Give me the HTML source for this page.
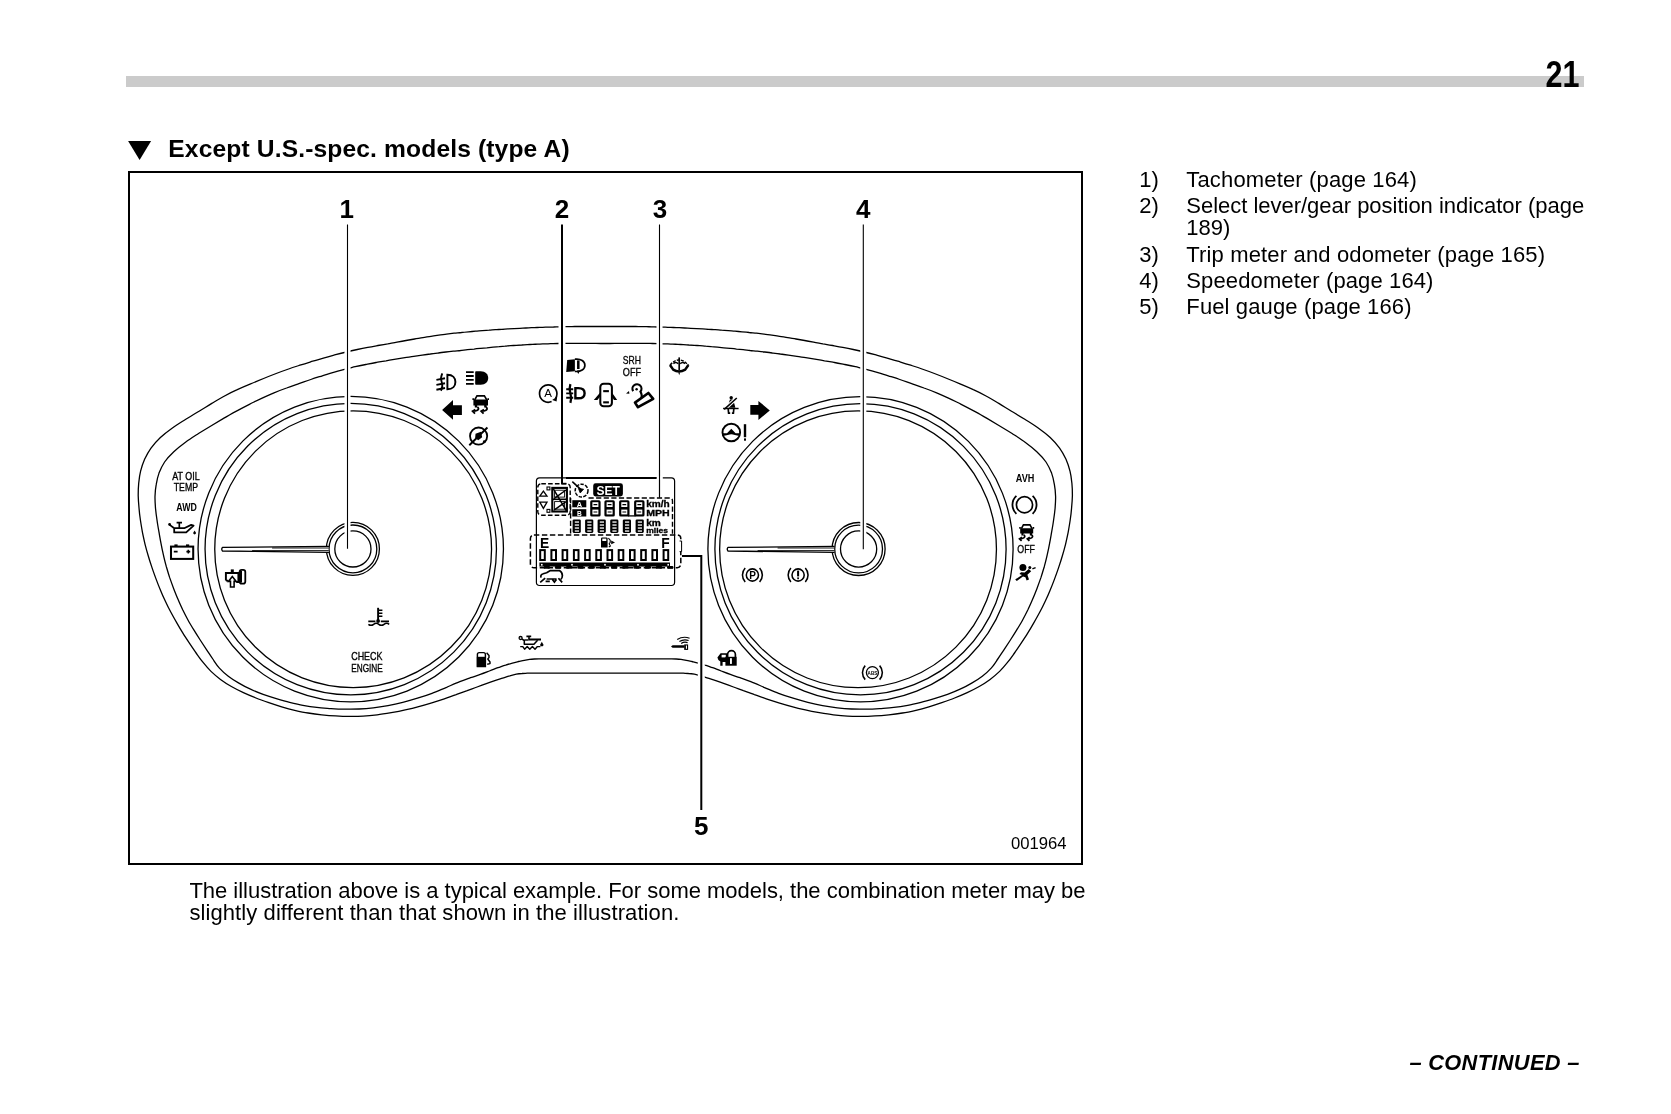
<!DOCTYPE html>
<html lang="en">
<head>
<meta charset="utf-8">
<title>Combination meter - Except U.S.-spec. models (type A)</title>
<style>
html,body{margin:0;padding:0;background:#fff;}
body{width:1671px;height:1114px;position:relative;overflow:hidden;font-family:"Liberation Sans",sans-serif;color:#000;}
.abs{position:absolute;white-space:nowrap;line-height:1;}
#bar{position:absolute;left:126px;top:76px;width:1458px;height:11px;background:#cbcbcb;}
#pageno{left:1539px;top:56.6px;width:40px;text-align:right;font-size:36.6px;font-weight:bold;transform:scaleX(0.835);transform-origin:100% 50%;}
#heading{left:168.3px;top:137px;font-size:24.6px;font-weight:bold;letter-spacing:0.14px;}
#figbox{position:absolute;left:128px;top:171px;width:951px;height:690px;border:2px solid #000;box-sizing:content-box;}
.li{font-size:22px;margin-left:-0.7px;}
.cap{font-size:22px;left:189.4px;}
#cont{left:1409.4px;top:1052.3px;font-size:21.8px;font-weight:bold;font-style:italic;letter-spacing:0.34px;}
#page{position:absolute;left:0;top:0;width:1671px;height:1114px;will-change:transform;}
svg{position:absolute;left:0;top:0;}
svg text{font-family:"Liberation Sans",sans-serif;}
</style>
</head>
<body>
<div id="page">
<div id="bar"></div>
<div id="pageno" class="abs">21</div>
<div id="heading" class="abs">Except U.S.-spec. models (type A)</div>
<div id="figbox"></div>

<div class="abs li" style="left:1140px;top:169px;">1)</div>
<div class="abs li" style="left:1187px;top:169px;letter-spacing:0.15px;">Tachometer (page 164)</div>
<div class="abs li" style="left:1140px;top:195px;">2)</div>
<div class="abs li" style="left:1187px;top:195px;letter-spacing:-0.02px;">Select lever/gear position indicator (page</div>
<div class="abs li" style="left:1187px;top:217px;">189)</div>
<div class="abs li" style="left:1140px;top:244px;">3)</div>
<div class="abs li" style="left:1187px;top:244px;letter-spacing:0.15px;">Trip meter and odometer (page 165)</div>
<div class="abs li" style="left:1140px;top:270px;">4)</div>
<div class="abs li" style="left:1187px;top:270px;letter-spacing:0.12px;">Speedometer (page 164)</div>
<div class="abs li" style="left:1140px;top:296px;">5)</div>
<div class="abs li" style="left:1187px;top:296px;letter-spacing:0.13px;">Fuel gauge (page 166)</div>

<div class="abs cap" style="top:880px;letter-spacing:-0.015px;">The illustration above is a typical example. For some models, the combination meter may be</div>
<div class="abs cap" style="top:902px;letter-spacing:0.09px;">slightly different than that shown in the illustration.</div>

<div id="cont" class="abs">– CONTINUED –</div>

<svg width="1671" height="1114" viewBox="0 0 1671 1114">
<g fill="none" stroke="#000" stroke-width="1.3" stroke-linecap="round" stroke-linejoin="round">
<path d="M140.4 520.0 C139.8 515.9 139.3 511.9 139.0 507.8 C138.6 503.7 138.3 499.6 138.2 495.5 C138.2 491.4 138.3 487.3 138.7 483.3 C139.1 479.2 139.6 475.1 140.6 471.2 C141.6 467.2 142.9 463.2 144.6 459.3 C146.4 455.5 148.4 451.7 151.0 448.1 C153.7 444.4 156.8 440.9 160.4 437.5 C164.0 434.2 168.2 431.0 172.4 428.0 C176.6 424.9 181.4 422.1 185.8 419.3 C190.3 416.5 194.8 413.8 199.1 411.2 C203.4 408.5 207.7 406.0 211.8 403.4 C216.0 400.9 219.9 398.5 224.1 396.2 C228.4 393.9 232.8 391.7 237.3 389.7 C241.7 387.6 246.2 385.7 250.6 383.9 C255.0 382.0 259.3 380.2 263.6 378.5 C267.9 376.7 272.0 375.1 276.2 373.5 C280.4 371.9 284.5 370.4 288.6 369.0 C292.7 367.5 296.9 366.2 300.9 364.9 C304.9 363.6 308.9 362.4 312.8 361.2 C316.7 360.0 320.6 358.9 324.3 357.8 C328.1 356.7 331.9 355.7 335.6 354.7 C339.3 353.7 342.9 352.8 346.5 352.0 C350.2 351.1 353.7 350.3 357.3 349.5 C360.8 348.8 364.3 348.1 367.8 347.4 C371.2 346.7 374.6 346.1 377.9 345.5 C381.2 344.9 384.5 344.3 387.7 343.8 C390.9 343.2 394.0 342.7 397.0 342.1 C400.1 341.6 403.1 341.1 406.0 340.5 C408.9 340.0 411.8 339.5 414.6 339.0 C417.4 338.5 420.2 338.1 422.9 337.6 C425.6 337.2 428.3 336.7 431.0 336.3 C433.6 335.9 436.3 335.5 438.8 335.1 C441.4 334.8 444.0 334.4 446.5 334.1 C449.1 333.8 451.6 333.5 454.1 333.2 C456.5 333.0 459.0 332.7 461.4 332.5 C463.8 332.2 466.2 332.0 468.6 331.8 C470.9 331.6 473.3 331.4 475.6 331.2 C477.9 331.0 480.1 330.9 482.4 330.7 C484.6 330.5 486.8 330.3 489.0 330.2 C491.2 330.0 493.3 329.9 495.4 329.7 C497.6 329.6 499.7 329.4 501.8 329.3 C503.8 329.2 505.9 329.0 507.9 328.9 C510.0 328.8 512.0 328.7 514.0 328.6 C516.0 328.5 518.0 328.4 519.9 328.3 C521.9 328.2 523.8 328.1 525.8 328.0 C527.7 327.9 529.6 327.8 531.5 327.7 C533.4 327.6 535.3 327.6 537.1 327.5 C539.0 327.4 540.8 327.4 542.7 327.3 C544.5 327.2 546.4 327.2 548.2 327.1 C550.0 327.1 551.8 327.0 553.6 327.0 C555.4 326.9 557.2 326.9 558.9 326.8 C560.7 326.8 562.5 326.7 564.2 326.7 C566.0 326.7 567.7 326.6 569.5 326.6 C571.2 326.6 572.9 326.5 574.7 326.5 C576.4 326.5 578.1 326.5 579.8 326.5 C581.5 326.5 583.3 326.5 585.0 326.5 C586.7 326.5 588.4 326.5 590.1 326.5 C591.8 326.5 593.5 326.5 595.2 326.5 C596.9 326.5 598.5 326.5 600.2 326.5 C601.9 326.5 603.6 326.5 605.3 326.5 C607.0 326.5 608.7 326.5 610.4 326.5 C612.1 326.5 613.7 326.5 615.4 326.5 C617.1 326.5 618.8 326.5 620.5 326.5 C622.2 326.5 623.9 326.5 625.6 326.5 C627.3 326.5 629.1 326.5 630.8 326.5 C632.5 326.5 634.2 326.5 635.9 326.5 C637.7 326.5 639.4 326.6 641.1 326.6 C642.9 326.6 644.6 326.7 646.4 326.7 C648.1 326.7 649.9 326.8 651.7 326.8 C653.4 326.9 655.2 326.9 657.0 327.0 C658.8 327.0 660.6 327.1 662.4 327.1 C664.2 327.2 666.1 327.2 667.9 327.3 C669.8 327.4 671.6 327.4 673.5 327.5 C675.3 327.6 677.2 327.6 679.1 327.7 C681.0 327.8 682.9 327.9 684.8 328.0 C686.8 328.1 688.7 328.2 690.7 328.3 C692.6 328.4 694.6 328.5 696.6 328.6 C698.6 328.7 700.6 328.8 702.7 328.9 C704.7 329.0 706.8 329.2 708.8 329.3 C710.9 329.4 713.0 329.6 715.2 329.7 C717.3 329.9 719.4 330.0 721.6 330.2 C723.8 330.3 726.0 330.5 728.2 330.7 C730.5 330.9 732.7 331.0 735.0 331.2 C737.3 331.4 739.7 331.6 742.0 331.8 C744.4 332.0 746.8 332.2 749.2 332.5 C751.6 332.7 754.1 333.0 756.5 333.2 C759.0 333.5 761.5 333.8 764.1 334.1 C766.6 334.4 769.2 334.8 771.8 335.1 C774.3 335.5 777.0 335.9 779.6 336.3 C782.3 336.7 785.0 337.2 787.7 337.6 C790.4 338.1 793.2 338.5 796.0 339.0 C798.8 339.5 801.7 340.0 804.6 340.5 C807.5 341.1 810.5 341.6 813.6 342.1 C816.6 342.7 819.7 343.2 822.9 343.8 C826.1 344.3 829.4 344.9 832.7 345.5 C836.0 346.1 839.4 346.7 842.8 347.4 C846.3 348.1 849.8 348.8 853.3 349.5 C856.9 350.3 860.4 351.1 864.1 352.0 C867.7 352.8 871.3 353.7 875.0 354.7 C878.7 355.7 882.5 356.7 886.3 357.8 C890.0 358.9 893.9 360.0 897.8 361.2 C901.7 362.4 905.7 363.6 909.7 364.9 C913.7 366.2 917.9 367.5 922.0 369.0 C926.1 370.4 930.2 371.9 934.4 373.5 C938.6 375.1 942.7 376.7 947.0 378.5 C951.3 380.2 955.6 382.0 960.0 383.9 C964.4 385.7 968.9 387.6 973.3 389.7 C977.8 391.7 982.2 393.9 986.5 396.2 C990.7 398.5 994.6 400.9 998.8 403.4 C1002.9 406.0 1007.2 408.5 1011.5 411.2 C1015.8 413.8 1020.3 416.5 1024.8 419.3 C1029.2 422.1 1034.0 424.9 1038.2 428.0 C1042.4 431.0 1046.6 434.2 1050.2 437.5 C1053.8 440.9 1056.9 444.4 1059.6 448.1 C1062.2 451.7 1064.2 455.5 1066.0 459.3 C1067.7 463.2 1069.0 467.2 1070.0 471.2 C1071.0 475.1 1071.5 479.2 1071.9 483.3 C1072.3 487.3 1072.4 491.4 1072.4 495.5 C1072.3 499.6 1072.0 503.7 1071.6 507.8 C1071.3 511.9 1070.8 515.9 1070.2 520.0 C1069.6 524.1 1068.9 528.1 1068.2 532.1 C1067.4 536.1 1066.5 540.1 1065.6 544.1 C1064.6 548.1 1063.5 552.0 1062.3 556.0 C1061.2 559.9 1059.9 563.8 1058.6 567.6 C1057.3 571.5 1055.9 575.3 1054.5 579.1 C1053.1 582.9 1051.6 586.7 1050.0 590.4 C1048.5 594.2 1046.8 597.9 1045.1 601.5 C1043.4 605.2 1041.6 608.8 1039.7 612.3 C1037.8 615.9 1035.8 619.4 1033.8 622.9 C1031.8 626.4 1029.8 629.8 1027.7 633.2 C1025.6 636.6 1023.4 639.9 1021.2 643.2 C1019.0 646.5 1016.8 649.8 1014.5 653.0 C1012.2 656.2 1010.0 659.4 1007.5 662.4 C1005.0 665.5 1002.5 668.5 999.6 671.4 C996.7 674.2 993.5 676.9 990.1 679.4 C986.7 681.9 983.0 684.3 979.2 686.5 C975.4 688.7 971.3 690.7 967.2 692.6 C963.1 694.5 958.8 696.3 954.6 698.0 C950.4 699.7 946.1 701.2 941.8 702.7 C937.5 704.2 933.2 705.6 928.9 706.8 C924.6 708.1 920.3 709.3 915.9 710.3 C911.5 711.3 907.0 712.3 902.5 713.0 C898.0 713.8 893.4 714.4 888.8 714.8 C884.2 715.3 879.6 715.7 875.0 715.9 C870.4 716.2 865.9 716.4 861.3 716.4 C856.7 716.5 852.1 716.4 847.5 716.1 C842.9 715.9 838.1 715.4 833.4 714.8 C828.7 714.3 824.0 713.5 819.3 712.7 C814.7 711.9 810.0 711.0 805.4 709.9 C800.9 708.9 796.3 707.8 791.9 706.6 C787.5 705.4 783.1 704.1 778.8 702.8 C774.5 701.5 770.3 700.2 766.3 698.8 C762.2 697.4 758.2 695.9 754.4 694.6 C750.6 693.2 746.9 691.8 743.4 690.6 C739.9 689.3 736.7 688.2 733.5 687.0 C730.3 685.9 727.2 684.8 724.3 683.7 C721.3 682.7 718.5 681.7 715.8 680.7 C713.1 679.8 710.5 679.0 708.0 678.2 C705.5 677.4 703.1 676.5 700.8 675.9 C698.5 675.2 696.4 674.6 694.3 674.2 C692.3 673.8 690.5 673.6 688.6 673.5 C686.8 673.3 685.1 673.3 683.4 673.2 C681.7 673.2 680.0 673.2 678.4 673.2 C676.7 673.2 675.1 673.2 673.5 673.2 C671.9 673.2 670.3 673.2 668.8 673.2 C667.2 673.2 665.6 673.2 664.1 673.2 C662.6 673.2 661.0 673.2 659.5 673.2 C658.0 673.2 656.5 673.2 655.1 673.2 C653.6 673.2 652.1 673.2 650.7 673.2 C649.2 673.2 647.8 673.2 646.3 673.2 C644.9 673.2 643.5 673.2 642.1 673.2 C640.7 673.2 639.3 673.2 637.9 673.2 C636.5 673.1 635.1 673.1 633.7 673.1 C632.3 673.1 630.9 673.1 629.6 673.1 C628.2 673.1 626.8 673.1 625.5 673.1 C624.1 673.1 622.7 673.1 621.4 673.1 C620.0 673.1 618.7 673.1 617.4 673.1 C616.0 673.1 614.7 673.1 613.3 673.1 C612.0 673.1 610.6 673.1 609.3 673.1 C608.0 673.1 606.6 673.1 605.3 673.1 C604.0 673.1 602.6 673.1 601.3 673.1 C600.0 673.1 598.6 673.1 597.3 673.1 C595.9 673.1 594.6 673.1 593.2 673.1 C591.9 673.1 590.6 673.1 589.2 673.1 C587.9 673.1 586.5 673.1 585.1 673.1 C583.8 673.1 582.4 673.1 581.0 673.1 C579.7 673.1 578.3 673.1 576.9 673.1 C575.5 673.1 574.1 673.1 572.7 673.2 C571.3 673.2 569.9 673.2 568.5 673.2 C567.1 673.2 565.7 673.2 564.3 673.2 C562.8 673.2 561.4 673.2 559.9 673.2 C558.5 673.2 557.0 673.2 555.5 673.2 C554.1 673.2 552.6 673.2 551.1 673.2 C549.6 673.2 548.0 673.2 546.5 673.2 C545.0 673.2 543.4 673.2 541.8 673.2 C540.3 673.2 538.7 673.2 537.1 673.2 C535.5 673.2 533.9 673.2 532.2 673.2 C530.6 673.2 528.9 673.2 527.2 673.2 C525.5 673.3 523.8 673.3 522.0 673.5 C520.1 673.6 518.3 673.8 516.3 674.2 C514.2 674.6 512.1 675.2 509.8 675.9 C507.5 676.5 505.1 677.4 502.6 678.2 C500.1 679.0 497.5 679.8 494.8 680.7 C492.1 681.7 489.3 682.7 486.3 683.7 C483.4 684.8 480.3 685.9 477.1 687.0 C473.9 688.2 470.7 689.3 467.2 690.6 C463.7 691.8 460.0 693.2 456.2 694.6 C452.4 695.9 448.4 697.4 444.3 698.8 C440.3 700.2 436.1 701.5 431.8 702.8 C427.5 704.1 423.1 705.4 418.7 706.6 C414.3 707.8 409.7 708.9 405.2 709.9 C400.6 711.0 395.9 711.9 391.3 712.7 C386.6 713.5 381.9 714.3 377.2 714.8 C372.5 715.4 367.7 715.9 363.1 716.1 C358.5 716.4 353.9 716.5 349.3 716.4 C344.7 716.4 340.2 716.2 335.6 715.9 C331.0 715.7 326.4 715.3 321.8 714.8 C317.2 714.4 312.6 713.8 308.1 713.0 C303.6 712.3 299.1 711.3 294.7 710.3 C290.3 709.3 286.0 708.1 281.7 706.8 C277.4 705.6 273.1 704.2 268.8 702.7 C264.5 701.2 260.2 699.7 256.0 698.0 C251.8 696.3 247.5 694.5 243.4 692.6 C239.3 690.7 235.2 688.7 231.4 686.5 C227.6 684.3 223.9 681.9 220.5 679.4 C217.1 676.9 213.9 674.2 211.0 671.4 C208.1 668.5 205.6 665.5 203.1 662.4 C200.6 659.4 198.4 656.2 196.1 653.0 C193.8 649.8 191.6 646.5 189.4 643.2 C187.2 639.9 185.0 636.6 182.9 633.2 C180.8 629.8 178.8 626.4 176.8 622.9 C174.8 619.4 172.8 615.9 170.9 612.3 C169.0 608.8 167.2 605.2 165.5 601.5 C163.8 597.9 162.1 594.2 160.6 590.4 C159.0 586.7 157.5 582.9 156.1 579.1 C154.7 575.3 153.3 571.5 152.0 567.6 C150.7 563.8 149.4 559.9 148.3 556.0 C147.1 552.0 146.0 548.1 145.0 544.1 C144.1 540.1 143.2 536.1 142.4 532.1 C141.7 528.1 141.0 524.1 140.4 520.0Z"/>
<path d="M157.0 520.0 C156.4 516.1 155.9 512.2 155.5 508.2 C155.2 504.3 154.9 500.3 155.0 496.4 C155.1 492.5 155.5 488.5 156.2 484.7 C156.8 480.8 157.6 476.9 159.0 473.1 C160.5 469.3 162.2 465.6 164.6 462.0 C167.1 458.4 170.3 455.0 173.8 451.7 C177.3 448.4 181.4 445.2 185.5 442.2 C189.6 439.2 194.2 436.3 198.5 433.5 C202.9 430.8 207.4 428.1 211.7 425.5 C216.0 422.9 220.2 420.4 224.4 417.9 C228.6 415.5 232.7 413.1 236.9 410.9 C241.1 408.6 245.2 406.4 249.4 404.3 C253.5 402.3 257.5 400.2 261.6 398.3 C265.7 396.4 269.8 394.5 274.0 392.8 C278.1 391.1 282.4 389.5 286.6 388.0 C290.7 386.4 294.9 385.0 298.9 383.6 C303.0 382.2 306.9 380.8 310.8 379.5 C314.7 378.3 318.6 377.0 322.3 375.8 C326.1 374.6 329.8 373.5 333.5 372.4 C337.2 371.4 340.8 370.3 344.4 369.4 C348.1 368.4 351.6 367.6 355.2 366.7 C358.8 365.9 362.3 365.2 365.8 364.5 C369.3 363.8 372.7 363.1 376.1 362.5 C379.5 361.9 382.8 361.3 386.1 360.8 C389.4 360.2 392.6 359.7 395.7 359.2 C398.8 358.7 401.9 358.2 404.9 357.7 C407.9 357.2 410.8 356.8 413.7 356.3 C416.6 355.9 419.4 355.5 422.2 355.1 C424.9 354.7 427.7 354.3 430.3 354.0 C433.0 353.6 435.7 353.3 438.3 353.0 C440.9 352.6 443.4 352.3 445.9 352.0 C448.4 351.8 450.9 351.5 453.3 351.2 C455.8 351.0 458.1 350.7 460.5 350.5 C462.8 350.2 465.2 350.0 467.4 349.7 C469.7 349.5 471.9 349.3 474.1 349.1 C476.3 348.8 478.5 348.6 480.6 348.4 C482.8 348.2 484.9 348.0 486.9 347.8 C489.0 347.6 491.1 347.4 493.1 347.2 C495.1 347.0 497.1 346.8 499.1 346.7 C501.1 346.5 503.0 346.3 504.9 346.2 C506.9 346.0 508.8 345.9 510.7 345.7 C512.6 345.6 514.4 345.4 516.3 345.3 C518.2 345.2 520.0 345.1 521.8 345.0 C523.6 344.8 525.4 344.7 527.2 344.6 C529.0 344.5 530.8 344.5 532.6 344.4 C534.3 344.3 536.1 344.2 537.8 344.1 C539.5 344.1 541.2 344.0 543.0 343.9 C544.7 343.9 546.4 343.8 548.0 343.8 C549.7 343.7 551.4 343.7 553.1 343.6 C554.7 343.6 556.4 343.6 558.0 343.5 C559.7 343.5 561.3 343.4 562.9 343.4 C564.5 343.4 566.1 343.4 567.7 343.3 C569.4 343.3 571.0 343.3 572.5 343.3 C574.1 343.3 575.7 343.3 577.3 343.3 C578.9 343.3 580.5 343.3 582.0 343.3 C583.6 343.3 585.2 343.3 586.7 343.4 C588.3 343.4 589.8 343.4 591.4 343.4 C593.0 343.4 594.5 343.4 596.0 343.4 C597.6 343.5 599.1 343.5 600.7 343.5 C602.2 343.5 603.8 343.5 605.3 343.5 C606.8 343.5 608.4 343.5 609.9 343.5 C611.5 343.5 613.0 343.5 614.6 343.4 C616.1 343.4 617.6 343.4 619.2 343.4 C620.8 343.4 622.3 343.4 623.9 343.4 C625.4 343.3 627.0 343.3 628.6 343.3 C630.1 343.3 631.7 343.3 633.3 343.3 C634.9 343.3 636.5 343.3 638.1 343.3 C639.6 343.3 641.2 343.3 642.9 343.3 C644.5 343.4 646.1 343.4 647.7 343.4 C649.3 343.4 650.9 343.5 652.6 343.5 C654.2 343.6 655.9 343.6 657.5 343.6 C659.2 343.7 660.9 343.7 662.6 343.8 C664.2 343.8 665.9 343.9 667.6 343.9 C669.4 344.0 671.1 344.1 672.8 344.1 C674.5 344.2 676.3 344.3 678.0 344.4 C679.8 344.5 681.6 344.5 683.4 344.6 C685.2 344.7 687.0 344.8 688.8 345.0 C690.6 345.1 692.4 345.2 694.3 345.3 C696.2 345.4 698.0 345.6 699.9 345.7 C701.8 345.9 703.7 346.0 705.7 346.2 C707.6 346.3 709.5 346.5 711.5 346.7 C713.5 346.8 715.5 347.0 717.5 347.2 C719.5 347.4 721.6 347.6 723.7 347.8 C725.7 348.0 727.8 348.2 730.0 348.4 C732.1 348.6 734.3 348.8 736.5 349.1 C738.7 349.3 740.9 349.5 743.2 349.7 C745.4 350.0 747.8 350.2 750.1 350.5 C752.5 350.7 754.8 351.0 757.3 351.2 C759.7 351.5 762.2 351.8 764.7 352.0 C767.2 352.3 769.7 352.6 772.3 353.0 C774.9 353.3 777.6 353.6 780.3 354.0 C782.9 354.3 785.7 354.7 788.4 355.1 C791.2 355.5 794.0 355.9 796.9 356.3 C799.8 356.8 802.7 357.2 805.7 357.7 C808.7 358.2 811.8 358.7 814.9 359.2 C818.0 359.7 821.2 360.2 824.5 360.8 C827.8 361.3 831.1 361.9 834.5 362.5 C837.9 363.1 841.3 363.8 844.8 364.5 C848.3 365.2 851.8 365.9 855.4 366.7 C859.0 367.6 862.5 368.4 866.2 369.4 C869.8 370.3 873.4 371.4 877.1 372.4 C880.8 373.5 884.5 374.6 888.3 375.8 C892.0 377.0 895.9 378.3 899.8 379.5 C903.7 380.8 907.6 382.2 911.7 383.6 C915.7 385.0 919.9 386.4 924.0 388.0 C928.2 389.5 932.5 391.1 936.6 392.8 C940.8 394.5 944.9 396.4 949.0 398.3 C953.1 400.2 957.1 402.3 961.2 404.3 C965.4 406.4 969.5 408.6 973.7 410.9 C977.9 413.1 982.0 415.5 986.2 417.9 C990.4 420.4 994.6 422.9 998.9 425.5 C1003.2 428.1 1007.7 430.8 1012.1 433.5 C1016.4 436.3 1021.0 439.2 1025.1 442.2 C1029.2 445.2 1033.3 448.4 1036.8 451.7 C1040.3 455.0 1043.5 458.4 1046.0 462.0 C1048.4 465.6 1050.1 469.3 1051.6 473.1 C1053.0 476.9 1053.8 480.8 1054.4 484.7 C1055.1 488.5 1055.5 492.5 1055.6 496.4 C1055.7 500.3 1055.4 504.3 1055.1 508.2 C1054.7 512.2 1054.2 516.1 1053.6 520.0 C1053.1 523.9 1052.4 527.8 1051.7 531.7 C1051.0 535.6 1050.4 539.4 1049.6 543.3 C1048.9 547.1 1048.1 551.0 1047.2 554.8 C1046.4 558.6 1045.4 562.4 1044.4 566.2 C1043.3 569.9 1042.2 573.7 1041.0 577.4 C1039.7 581.1 1038.4 584.7 1037.0 588.4 C1035.6 592.0 1034.2 595.6 1032.6 599.2 C1031.1 602.8 1029.5 606.3 1027.9 609.8 C1026.2 613.3 1024.4 616.8 1022.5 620.2 C1020.6 623.6 1018.6 626.9 1016.6 630.2 C1014.6 633.5 1012.5 636.8 1010.4 640.0 C1008.3 643.2 1006.2 646.4 1004.1 649.6 C1002.0 652.7 1000.0 655.9 997.8 659.0 C995.7 662.1 993.8 665.3 991.2 668.1 C988.6 671.0 985.6 673.7 982.3 676.2 C979.1 678.7 975.4 681.0 971.7 683.1 C968.0 685.3 964.2 687.4 960.1 689.2 C956.1 691.1 951.8 692.8 947.5 694.4 C943.2 695.9 938.7 697.3 934.3 698.6 C929.9 699.9 925.5 701.2 921.0 702.3 C916.6 703.4 912.2 704.5 907.7 705.3 C903.1 706.1 898.4 706.8 893.8 707.3 C889.1 707.9 884.3 708.2 879.6 708.6 C875.0 708.9 870.3 709.1 865.6 709.1 C861.0 709.2 856.4 709.2 851.6 709.0 C846.9 708.8 842.1 708.4 837.3 707.8 C832.4 707.3 827.5 706.5 822.6 705.6 C817.6 704.6 812.7 703.5 807.8 702.3 C802.8 701.1 797.9 699.7 793.1 698.2 C788.2 696.7 783.4 695.1 778.6 693.3 C773.8 691.5 768.7 689.2 764.0 687.3 C759.4 685.3 754.8 683.2 750.8 681.6 C746.8 680.0 743.4 678.9 740.0 677.7 C736.6 676.5 733.4 675.5 730.3 674.4 C727.2 673.3 724.1 672.1 721.2 671.0 C718.2 669.9 715.3 668.7 712.6 667.7 C709.9 666.8 707.4 665.8 705.0 665.1 C702.6 664.3 700.4 663.7 698.2 663.1 C696.1 662.5 694.0 662.0 692.0 661.5 C690.1 661.1 688.1 660.7 686.3 660.3 C684.5 659.9 682.7 659.6 681.0 659.4 C679.3 659.2 677.7 659.1 676.1 659.0 C674.5 658.9 673.1 658.9 671.6 658.9 C670.1 658.9 668.6 658.9 667.1 658.9 C665.7 658.9 664.3 658.9 662.8 658.9 C661.4 658.9 660.0 658.9 658.6 658.9 C657.2 658.9 655.8 658.9 654.5 658.9 C653.1 658.9 651.8 658.9 650.4 658.9 C649.1 658.9 647.8 658.9 646.4 658.9 C645.1 658.9 643.8 658.9 642.5 658.9 C641.2 658.9 639.9 658.9 638.6 658.9 C637.4 658.9 636.1 658.9 634.8 658.9 C633.5 658.9 632.3 658.9 631.0 658.9 C629.8 658.9 628.5 658.9 627.3 658.9 C626.0 658.9 624.8 658.9 623.6 658.9 C622.3 658.9 621.1 658.9 619.9 658.9 C618.7 658.9 617.4 658.8 616.2 658.8 C615.0 658.8 613.8 658.8 612.6 658.8 C611.4 658.8 610.1 658.8 608.9 658.8 C607.7 658.8 606.5 658.8 605.3 658.8 C604.1 658.8 602.9 658.8 601.7 658.8 C600.5 658.8 599.2 658.8 598.0 658.8 C596.8 658.8 595.6 658.8 594.4 658.8 C593.2 658.8 591.9 658.9 590.7 658.9 C589.5 658.9 588.3 658.9 587.0 658.9 C585.8 658.9 584.6 658.9 583.3 658.9 C582.1 658.9 580.8 658.9 579.6 658.9 C578.3 658.9 577.1 658.9 575.8 658.9 C574.5 658.9 573.2 658.9 572.0 658.9 C570.7 658.9 569.4 658.9 568.1 658.9 C566.8 658.9 565.5 658.9 564.2 658.9 C562.8 658.9 561.5 658.9 560.2 658.9 C558.8 658.9 557.5 658.9 556.1 658.9 C554.8 658.9 553.4 658.9 552.0 658.9 C550.6 658.9 549.2 658.9 547.8 658.9 C546.3 658.9 544.9 658.9 543.5 658.9 C542.0 658.9 540.5 658.9 539.0 658.9 C537.5 658.9 536.1 658.9 534.5 659.0 C532.9 659.1 531.3 659.2 529.6 659.4 C527.9 659.6 526.1 659.9 524.3 660.3 C522.5 660.7 520.5 661.1 518.6 661.5 C516.6 662.0 514.5 662.5 512.4 663.1 C510.2 663.7 508.0 664.3 505.6 665.1 C503.2 665.8 500.7 666.8 498.0 667.7 C495.3 668.7 492.4 669.9 489.4 671.0 C486.5 672.1 483.4 673.3 480.3 674.4 C477.2 675.5 474.0 676.5 470.6 677.7 C467.2 678.9 463.8 680.0 459.8 681.6 C455.8 683.2 451.2 685.3 446.6 687.3 C441.9 689.2 436.8 691.5 432.0 693.3 C427.2 695.1 422.4 696.7 417.5 698.2 C412.7 699.7 407.8 701.1 402.8 702.3 C397.9 703.5 393.0 704.6 388.0 705.6 C383.1 706.5 378.2 707.3 373.3 707.8 C368.5 708.4 363.7 708.8 359.0 709.0 C354.2 709.2 349.6 709.2 345.0 709.1 C340.3 709.1 335.6 708.9 331.0 708.6 C326.3 708.2 321.5 707.9 316.8 707.3 C312.2 706.8 307.5 706.1 302.9 705.3 C298.4 704.5 294.0 703.4 289.6 702.3 C285.1 701.2 280.7 699.9 276.3 698.6 C271.9 697.3 267.4 695.9 263.1 694.4 C258.8 692.8 254.5 691.1 250.5 689.2 C246.4 687.4 242.6 685.3 238.9 683.1 C235.2 681.0 231.5 678.7 228.3 676.2 C225.0 673.7 222.0 671.0 219.4 668.1 C216.8 665.3 214.9 662.1 212.8 659.0 C210.6 655.9 208.6 652.7 206.5 649.6 C204.4 646.4 202.3 643.2 200.2 640.0 C198.1 636.8 196.0 633.5 194.0 630.2 C192.0 626.9 190.0 623.6 188.1 620.2 C186.2 616.8 184.4 613.3 182.7 609.8 C181.1 606.3 179.5 602.8 178.0 599.2 C176.4 595.6 175.0 592.0 173.6 588.4 C172.2 584.7 170.9 581.1 169.6 577.4 C168.4 573.7 167.3 569.9 166.2 566.2 C165.2 562.4 164.2 558.6 163.4 554.8 C162.5 551.0 161.7 547.1 161.0 543.3 C160.2 539.4 159.6 535.6 158.9 531.7 C158.2 527.8 157.5 523.9 157.0 520.0Z"/>
<circle cx="350.75" cy="549.1" r="152.7"/>
<circle cx="350.75" cy="549.1" r="145.7"/>
<circle cx="353.15" cy="549.2" r="138.4"/>
<circle cx="860.50" cy="549.3" r="152.6"/>
<circle cx="860.50" cy="549.3" r="145.6"/>
<circle cx="858.05" cy="549.3" r="138.4"/>
<circle cx="352.9" cy="548.9" r="26.5" fill="#fff"/>
<circle cx="352.9" cy="548.9" r="23.9" fill="#fff"/>
<circle cx="352.9" cy="548.9" r="18.1" fill="#fff"/>
<circle cx="858.6" cy="549.0" r="26.5" fill="#fff"/>
<circle cx="858.6" cy="549.0" r="23.9" fill="#fff"/>
<circle cx="858.6" cy="549.0" r="18.1" fill="#fff"/>
<path d="M328.4 546.4 L222.5 547.4 Q221.0 549.2 222.5 551 L328.4 552.4" fill="#fff"/>
<path d="M272.5 548.0 L328.4 548.0" stroke-width="0.9"/>
<path d="M252.5 550.6 L328.4 550.6" stroke-width="0.9"/>
<path d="M834.1 546.4 L728.0 547.4 Q726.5 549.2 728.0 551 L834.1 552.4" fill="#fff"/>
<path d="M778.0 548.0 L834.1 548.0" stroke-width="0.9"/>
<path d="M758.0 550.6 L834.1 550.6" stroke-width="0.9"/>
<path d="M347.5 300 V548.8" stroke="#fff" stroke-width="6.1" stroke-linecap="butt"/>
<path d="M347.5 224.5 V548.8" stroke-width="1.1" stroke-linecap="butt"/>
<path d="M562 300 V484" stroke="#fff" stroke-width="7.0" stroke-linecap="butt"/>
<path d="M562 224.5 V484" stroke-width="2.0" stroke-linecap="butt"/>
<path d="M659.5 300 V497.5" stroke="#fff" stroke-width="6.1" stroke-linecap="butt"/>
<path d="M659.5 224.5 V497.5" stroke-width="1.1" stroke-linecap="butt"/>
<path d="M863.3 300 V549.3" stroke="#fff" stroke-width="6.1" stroke-linecap="butt"/>
<path d="M863.3 224.5 V549.3" stroke-width="1.1" stroke-linecap="butt"/>
<path d="M701.3 640 V700" stroke="#fff" stroke-width="7" stroke-linecap="butt"/>
<path d="M682 556 H701.3 V810" stroke-width="2" stroke-linecap="butt" stroke-linejoin="miter"/>
</g>
<polygon points="128.1,140.9 151.1,140.9 139.6,159.9" fill="#000"/>
<g id="tell-left" fill="none" stroke="#000" stroke-width="1.68" stroke-linecap="butt" stroke-linejoin="miter">
<!-- front fog lamp -->
<path d="M447.4 374.7 C452.8 374.7 455.4 378 455.4 382 C455.4 386 452.8 389.3 447.4 389.3 Z" stroke-width="1.92"/>
<path d="M445 378.2 L436.4 379.9 M445 383.2 L436.4 384.9 M445 388 L436.4 389.7" stroke-width="1.92"/>
<path d="M442.3 373.4 q-2.2 4.2 -0.6 8.6 q1.6 4.4 -0.8 8.8" stroke-width="1.80"/>
<!-- high beam -->
<path d="M476 371.3 H480.6 C485.6 371.3 488.2 374.4 488.2 378 C488.2 381.6 485.6 384.7 480.6 384.7 H476 Q475.2 384.7 475.2 383.9 V372.1 Q475.2 371.3 476 371.3 Z" fill="#000" stroke="none"/>
<path d="M466 372.2 H473.7 M466 376 H473.7 M466 379.9 H473.7 M466 383.8 H473.7" stroke-width="1.80"/>
<!-- left turn arrow -->
<path d="M442.1 410.1 L453 400 V405.3 H461.9 V415 H453 V419.8 Z" fill="#000" stroke="none"/>
<!-- VDC car with skid marks -->
<path d="M474.6 400 L477 395.9 H484.4 L486.8 400" stroke-width="1.56"/>
<path d="M473.4 399.6 H488 V405.4 H486.6 V407.6 H484.2 V405.4 H477.2 V407.6 H474.8 V405.4 H473.4 Z" fill="#000" stroke="none"/>
<path d="M472.4 399.2 H474 M487.4 399.2 H489" stroke-width="1.68"/>
<path d="M477.4 407 q2.2 1.8 0 3.2 q-1.6 1 -4.6 1 M475.4 409.6 l-2.8 1.6 l2.4 2.4 M486 407 q2.2 1.8 0 3.2 q-1.6 1 -4.6 1 M484 409.6 l-2.8 1.6 l2.4 2.4" stroke-width="1.80"/>
<!-- steering crossed -->
<circle cx="478.6" cy="436.1" r="8.6" stroke-width="1.80"/>
<path d="M469.3 445.3 L487.4 427.5" stroke-width="1.92"/>
<path d="M475.5 433.8 L481 431.8 L482.2 437.2 L478.2 440.2 L475.2 438 Z" fill="#000" stroke="none"/>
<circle cx="484.3" cy="441.7" r="1.4" fill="#000" stroke="none"/>
</g>
<g id="tell-top" fill="none" stroke="#000" stroke-width="1.68" stroke-linecap="butt">
<!-- (A) auto start stop -->
<path d="M555.6 398.2 A8.7 8.7 0 1 0 551.6 401.6" stroke-width="1.68"/>
<path d="M557.2 396.6 L556.6 401.6 L552.2 400 Z" fill="#000" stroke="none"/>
<text x="548.2" y="397.3" font-size="11.5" text-anchor="middle" fill="#000" stroke="none">A</text>
<!-- headlight warning -->
<path d="M567.2 360 L574.9 359.3 V371.2 L566.2 372 Z" fill="#000" stroke="none"/>
<path d="M574.9 359.2 C581 358.4 584.9 361.4 584.9 365.3 C584.9 369.3 581 371.9 574.9 371.4" stroke-width="1.68"/>
<path d="M578.3 360.4 V369" stroke-width="2.52"/>
<path d="M577.1 370.4 h2.4 l-0.4 2.2 l-0.8 1.4 l-0.8 -1.4 z" fill="#000" stroke="none"/>
<!-- rear fog -->
<path d="M575.4 388.1 H578.4 C583 388.1 584.6 390.6 584.6 393.2 C584.6 395.9 583 398.3 578.4 398.3 H575.4 Z" stroke-width="2.40"/>
<path d="M566.2 389.2 H573.2 M566.2 393.4 H573.2 M566.2 397.7 H573.2" stroke-width="1.92"/>
<path d="M570.4 384.2 q-1.6 4.6 0 9.2 q1.6 4.6 0 9.4" stroke-width="2.28"/>
<!-- door ajar (car top view) -->
<rect x="600.3" y="383.7" width="11.6" height="22.6" rx="3.4" ry="3.4" stroke-width="2.04"/>
<rect x="603.2" y="390.1" width="5.7" height="2.1" fill="#000" stroke="none"/>
<rect x="603.2" y="401.3" width="5.7" height="2.1" fill="#000" stroke="none"/>
<path d="M600.2 392.4 L593.8 399.9 H597.4 L600.2 396.4 Z M611.9 392.4 L617.2 399.9 H613.9 L611.9 396.4 Z" fill="#000" stroke="none"/>
<!-- SRH OFF -->
<text x="622.8" y="364.3" font-size="10.4" textLength="18.2" lengthAdjust="spacingAndGlyphs" fill="#000" stroke="#000" stroke-width="0.30">SRH</text>
<text x="622.8" y="375.5" font-size="10.4" textLength="18.2" lengthAdjust="spacingAndGlyphs" fill="#000" stroke="#000" stroke-width="0.30">OFF</text>
<!-- seat / hand icon -->
<path d="M633.2 391.2 A4.5 4.5 0 1 1 640.4 391.6 Q642.6 395.6 641.2 398" stroke-width="2.16"/>
<circle cx="636.6" cy="389.2" r="1.2" fill="#000" stroke="none"/>
<path d="M626 393.6 L629 391 L629.4 393.8 Z" fill="#000" stroke="none"/>
<path d="M635 402.6 L648.4 393 L653.2 398.8 L638 407.2 Z" stroke-width="2.64" stroke-linejoin="round"/>
<!-- windshield washer -->
<path d="M670 365.2 Q679 354.6 688.4 365.2" stroke-width="1.44" stroke-dasharray="3 1.2"/>
<path d="M670 365 L673.2 369.6 Q679 373.4 685.2 369.6 L688.4 365" stroke-width="2.52" stroke-linejoin="round"/>
<path d="M679.2 357.4 V370.4" stroke-width="1.68"/>
<path d="M673.4 363.6 Q676 361.2 678.2 363.8 M680.2 363.8 Q682.4 361.2 685 363.6" stroke-width="1.44"/>
<path d="M678.3 372.6 h1.8 l-0.9 2.6 z" fill="#000" stroke="none"/>
</g>
<g id="tell-right" fill="none" stroke="#000" stroke-width="1.68" stroke-linecap="butt">
<!-- seatbelt -->
<circle cx="731.2" cy="397.8" r="1.7" fill="#000" stroke="none"/>
<path d="M730 399.4 H733.2 L735.4 407.8 H727.2 Z" fill="#000" stroke="none"/>
<path d="M724.2 409.4 L736.8 398" stroke="#fff" stroke-width="3.60"/>
<path d="M724.2 409.4 L736.8 398" stroke-width="1.56"/>
<path d="M723.1 408.5 H738.6" stroke-width="1.44"/>
<path d="M728.2 409 L728.6 413.2 H730.2 M733.8 409 L733.4 413.2 H731.9" stroke-width="1.68"/>
<!-- right turn arrow -->
<path d="M750.3 405.1 H758.4 V401 L769.8 410.4 L758.4 420 V414.8 H750.3 Z" fill="#000" stroke="none"/>
<!-- power steering warning -->
<circle cx="731.3" cy="432.5" r="8.8" stroke-width="1.92"/>
<path d="M722.6 433.2 H727 L731.3 428.8 L735.6 433.2 H740 V435.9 C736 435.9 733.2 434.3 731.3 434.3 C729.4 434.3 726.6 435.9 722.6 435.9 Z" fill="#000" stroke="none"/>
<path d="M745 424.2 V437.2" stroke-width="2.40"/>
<rect x="744" y="438.4" width="2" height="2.3" fill="#000" stroke="none"/>
</g>

<g id="tell-side-left" fill="none" stroke="#000" stroke-width="1.68" stroke-linecap="butt">
<text x="172.3" y="480.3" font-size="10.6" textLength="27.4" lengthAdjust="spacingAndGlyphs" fill="#000" stroke="#000" stroke-width="0.36">AT OIL</text>
<text x="173.8" y="490.5" font-size="10.6" textLength="24.2" lengthAdjust="spacingAndGlyphs" fill="#000" stroke="#000" stroke-width="0.36">TEMP</text>
<text x="176.3" y="510.6" font-size="11.3" font-weight="bold" textLength="20.5" lengthAdjust="spacingAndGlyphs" fill="#000" stroke="none">AWD</text>
<!-- oil pressure can -->
<path d="M169.4 524.6 L174.2 528.2 V532.4 H186.2 L193.6 525.6 L191.2 524.9 L184.2 528.2 H174.2" stroke-width="1.80" stroke-linejoin="round"/>
<circle cx="169.6" cy="524.4" r="1.4" fill="#000" stroke="none"/>
<path d="M176.6 522.7 H182 M179.3 522.7 V528" stroke-width="1.68"/>
<path d="M194.6 530.6 l1.2 2 a1.3 1.3 0 1 1 -2.4 0 z" fill="#000" stroke="none"/>
<!-- battery -->
<rect x="171" y="546.6" width="22.2" height="12.3" stroke-width="2.04"/>
<rect x="174.4" y="544.4" width="3.2" height="2.4" fill="#000" stroke="none"/>
<rect x="186" y="544.4" width="3.2" height="2.4" fill="#000" stroke="none"/>
<path d="M173.8 551.6 H177.6 M186.4 551.6 H190.2 M188.3 549.7 V553.5" stroke-width="1.56"/>
<!-- door/engine icon inside tach -->
<path d="M225.9 580.6 V573 H238.4 V582 H236.2 M225.9 580.6 H228.2" stroke-width="1.92"/>
<rect x="230.8" y="569.4" width="3" height="3.6" fill="#000" stroke="none"/>
<path d="M232.3 576.6 L228.4 581.4 H230.5 V587 H234.1 V581.4 H236.2 Z" stroke-width="1.56" fill="#fff"/>
<rect x="239.6" y="569.8" width="5.7" height="13.8" rx="2.2" ry="2.2" stroke-width="1.80"/>
<path d="M239.6 571 H242 V582.6 H239.6 Z" fill="#000" stroke="none"/>
<!-- coolant temperature -->
<path d="M378.1 607.8 V621" stroke-width="1.92"/>
<path d="M378.1 610.2 H382.4 M378.1 613.2 H382.4 M378.1 616.2 H382.4" stroke-width="1.44"/>
<circle cx="378.1" cy="621" r="1.9" fill="#000" stroke="none"/>
<path d="M368.3 621.4 H375.4 M380.8 621.4 H389" stroke-width="1.56"/>
<path d="M368.4 624.3 q2.6 2 5.2 0 t5.2 0 t5.2 0 t5.2 0" stroke-width="1.56"/>
<text x="351.2" y="660.1" font-size="11.4" textLength="31.2" lengthAdjust="spacingAndGlyphs" fill="#000" stroke="#000" stroke-width="0.36">CHECK</text>
<text x="351.2" y="671.8" font-size="11.4" textLength="31.6" lengthAdjust="spacingAndGlyphs" fill="#000" stroke="#000" stroke-width="0.36">ENGINE</text>
</g>
<g id="tell-bottom" fill="none" stroke="#000" stroke-width="1.56" stroke-linecap="butt">
<!-- low fuel pump -->
<path d="M477.4 666.6 V654.4 Q477.4 652.6 479.2 652.6 H483.6 Q485.4 652.6 485.4 654.4 V666.6 Z" stroke-width="1.44"/>
<rect x="476.8" y="656.8" width="9.2" height="10" fill="#000" stroke="none"/>
<path d="M486.6 652.8 L489 655.4 V657.6 L487.8 659 L490 662 V663.6 L487.2 664.2" stroke-width="1.44" stroke-linejoin="round"/>
<!-- oil level -->
<circle cx="520.6" cy="638" r="1.5" stroke-width="1.32"/>
<path d="M521.8 638.8 L524.3 640.7 V644.2 H533.9 L537.6 640.2" stroke-width="1.56" stroke-linejoin="round"/>
<path d="M524.3 640 H528.5" stroke-width="1.44"/>
<path d="M528.5 639.5 H541" stroke-width="2.04"/>
<path d="M526.4 636.4 H531.2 M529 636.4 V639.5" stroke-width="1.56"/>
<path d="M541.8 641.8 l1.4 2.4 a1.5 1.5 0 1 1 -2.8 0 z" fill="#000" stroke="none"/>
<path d="M520.2 646.6 h2.6 l1.8 2.6 l2.6 -2.6 l2.6 2.6 l2.6 -2.6 l2.6 2.6 l2.4 -2.6 h3" stroke-width="1.44" stroke-linejoin="round"/>
<!-- keyless access key -->
<path d="M671 646.4 L672.6 645.2 H684.4 V647.7 H672.6 Z" fill="#000" stroke="none"/>
<rect x="684.2" y="644.4" width="3.9" height="5.5" fill="#000" stroke="none"/>
<rect x="685.9" y="645.5" width="1.1" height="3.3" fill="#fff" stroke="none"/>
<path d="M677.2 639.6 Q683 635.8 689.6 638.2 M679.4 641.6 Q683.6 638.8 688.6 640.5 M681.2 643.4 Q684.2 641.4 687.6 642.6" stroke-width="1.20"/>
<!-- immobilizer car + lock -->
<path d="M717.4 657.6 L720.6 653.2 H729.4 V662 H722.6 V665.7 H720.3 V661.6 L718.4 660 Z" fill="#000" stroke="none"/>
<rect x="721.6" y="654.8" width="4.2" height="2.6" fill="#fff" stroke="none"/>
<path d="M727.6 657 V654.6 A3.9 3.9 0 0 1 735.4 654.6 V657" stroke-width="1.68" fill="#fff"/>
<rect x="725.4" y="656.8" width="11.3" height="8.9" fill="#000" stroke="none"/>
<rect x="730" y="658.2" width="1.9" height="5.7" fill="#fff" stroke="none"/>
<!-- (P) -->
<circle cx="752.4" cy="575" r="6.1" stroke-width="1.56"/>
<path d="M745.2 568 A10.3 10.3 0 0 0 745.2 582 M759.6 568 A10.3 10.3 0 0 1 759.6 582" stroke-width="1.56"/>
<text x="752.5" y="578.6" font-size="10" font-weight="bold" text-anchor="middle" fill="#000" stroke="none">P</text>
<!-- (!) -->
<circle cx="798.1" cy="575" r="6.1" stroke-width="1.56"/>
<path d="M790.9 568 A10.3 10.3 0 0 0 790.9 582 M805.3 568 A10.3 10.3 0 0 1 805.3 582" stroke-width="1.56"/>
<path d="M798.1 570.6 V576.4" stroke-width="2.04"/>
<rect x="797.25" y="577.4" width="1.7" height="1.8" fill="#000" stroke="none"/>
<!-- ABS -->
<circle cx="872.4" cy="672.6" r="6" stroke-width="1.32"/>
<path d="M865.2 665.6 A10.3 10.3 0 0 0 865.2 679.6 M879.6 665.6 A10.3 10.3 0 0 1 879.6 679.6" stroke-width="1.56"/>
<text x="872.4" y="674.6" font-size="5.6" font-weight="bold" text-anchor="middle" textLength="9.6" lengthAdjust="spacingAndGlyphs" fill="#000" stroke="none">ABS</text>
</g>
<g id="tell-side-right" fill="none" stroke="#000" stroke-width="1.68" stroke-linecap="butt">
<text x="1015.8" y="482.4" font-size="11.8" font-weight="bold" textLength="18.6" lengthAdjust="spacingAndGlyphs" fill="#000" stroke="none">AVH</text>
<!-- brake hold -->
<circle cx="1024.5" cy="504.8" r="8.1" stroke-width="1.68"/>
<path d="M1016.4 495.8 A12.2 12.2 0 0 0 1016.4 513.8 M1032.6 495.8 A12.2 12.2 0 0 1 1032.6 513.8" stroke-width="1.80"/>
<!-- VDC off -->
<path d="M1021.4 528.6 L1023.4 524.9 H1030 L1032 528.6" stroke-width="1.56"/>
<path d="M1020.2 528.2 H1033.2 V533.4 H1032 V535.4 H1029.8 V533.4 H1023.6 V535.4 H1021.4 V533.4 H1020.2 Z" fill="#000" stroke="none"/>
<path d="M1019.2 527.9 H1020.8 M1032.6 527.9 H1034.2" stroke-width="1.56"/>
<path d="M1023.8 535 q2 1.6 0 2.9 q-1.4 0.9 -4.1 0.9 M1022 537.3 l-2.5 1.5 l2.1 2.1 M1031.6 535 q2 1.6 0 2.9 q-1.4 0.9 -4.1 0.9 M1029.8 537.3 l-2.5 1.5 l2.1 2.1" stroke-width="1.68"/>
<text x="1017.3" y="553.2" font-size="10.6" textLength="17.7" lengthAdjust="spacingAndGlyphs" fill="#000" stroke="#000" stroke-width="0.30">OFF</text>
<!-- airbag -->
<circle cx="1022.9" cy="567.6" r="3.5" fill="#000" stroke="none"/>
<path d="M1015.2 579.4 L1016.8 581 L1023 576.6 L1025.4 577.2 L1026.6 580.4 L1029 579.6 L1027.4 574.8 L1031.2 571.2 L1028.8 569 L1024.6 572.6 L1021 572.2 L1019.4 574 L1022 575 Z" fill="#000" stroke="none"/>
<circle cx="1029.8" cy="567.4" r="1.5" fill="#000" stroke="none"/>
<path d="M1032.4 568.9 L1035.6 567.6" stroke-width="1.44"/>
</g>

<g id="display" fill="none" stroke="#000" stroke-width="1.3" stroke-linecap="butt">
<path d="M539.6 477.9 H671.4 Q674.6 477.9 674.6 481.1 V582.3 Q674.6 585.5 671.4 585.5 H539.6 Q536.4 585.5 536.4 582.3 V481.1 Q536.4 477.9 539.6 477.9 Z" stroke-width="1.2"/>
<path d="M566 477.9 H656.6" stroke-width="2"/>
<rect x="537.8" y="483.7" width="32.4" height="31.5" rx="3.5" ry="3.5" stroke-width="1.4" stroke-dasharray="4.6 2.2"/>
<path d="M561 483.6 H566.4" stroke-width="1.6"/>
<path d="M543.4 491.2 L547 496.2 H539.8 Z M539.8 502.2 H547 L543.4 508.4 Z" stroke-width="1.3"/>
<rect x="547" y="487" width="2.9" height="2.9" stroke-width="1.1"/><rect x="547" y="509.4" width="2.9" height="2.9" stroke-width="1.1"/>
<rect x="552.3" y="487.9" width="14.6" height="23.6" stroke-width="2.1"/>
<path d="M552.3 499.3 H566.9" stroke-width="1.6"/>
<rect x="554.6" y="490.2" width="10" height="6.9" stroke-width="0.9"/><rect x="554.6" y="501.6" width="10" height="7.6" stroke-width="0.9"/>
<path d="M553.2 488.6 L566.4 510.8 M566 490 L554 498.6 M566 501.6 L554 510.2" stroke-width="1.5"/>
<circle cx="581.6" cy="490.6" r="6.4" stroke-width="1.5" stroke-dasharray="3.4 1.3"/>
<path d="M572.3 481.6 L581 489.6" stroke-width="1.5"/>
<path d="M578.4 488.4 L583.6 489.2 L580.2 493 Z" fill="#000" stroke-width="0.8"/>
<rect x="593.2" y="483.3" width="29.7" height="13.1" rx="2.4" ry="2.4" fill="#000" stroke="none"/>
<text x="608.2" y="494.6" font-size="12.6" font-weight="bold" text-anchor="middle" textLength="23.4" lengthAdjust="spacingAndGlyphs" fill="#fff" stroke="none">SET</text>
<path d="M588.5 498 H669.5 Q672.5 498 672.5 501 V533.8" stroke-width="1.4" stroke-dasharray="5.2 2.4"/>
<path d="M570.6 498 V534.6" stroke-width="1.4" stroke-dasharray="5.2 2.4"/>
<rect x="572.3" y="500.2" width="14" height="7.1" fill="#000" stroke="none"/><rect x="572.3" y="509.2" width="14" height="7.3" fill="#000" stroke="none"/>
<text x="579.3" y="506.6" font-size="7.4" font-weight="bold" text-anchor="middle" fill="#fff" stroke="none">A</text>
<text x="579.3" y="515.6" font-size="6.6" font-weight="bold" text-anchor="middle" fill="#fff" stroke="none">B</text>
<rect x="590.2" y="500.3" width="10.4" height="16.2" rx="1.6" ry="1.6" fill="#000" stroke="none"/>
<rect x="592.4" y="502.2" width="6.0" height="4.8" fill="#fff" stroke="none"/>
<rect x="592.4" y="509.6" width="6.0" height="4.8" fill="#fff" stroke="none"/>
<path d="M593.5 504.6 h3.8 M593.5 512.0 h3.8" stroke-width="1.1"/>
<rect x="604.4" y="500.3" width="10.4" height="16.2" rx="1.6" ry="1.6" fill="#000" stroke="none"/>
<rect x="606.6" y="502.2" width="6.0" height="4.8" fill="#fff" stroke="none"/>
<rect x="606.6" y="509.6" width="6.0" height="4.8" fill="#fff" stroke="none"/>
<path d="M607.7 504.6 h3.8 M607.7 512.0 h3.8" stroke-width="1.1"/>
<rect x="619.1" y="500.3" width="10.4" height="16.2" rx="1.6" ry="1.6" fill="#000" stroke="none"/>
<rect x="621.3" y="502.2" width="6.0" height="4.8" fill="#fff" stroke="none"/>
<rect x="621.3" y="509.6" width="6.0" height="4.8" fill="#fff" stroke="none"/>
<path d="M622.4 504.6 h3.8 M622.4 512.0 h3.8" stroke-width="1.1"/>
<rect x="634.1" y="500.3" width="10.4" height="16.2" rx="1.6" ry="1.6" fill="#000" stroke="none"/>
<rect x="636.3" y="502.2" width="6.0" height="4.8" fill="#fff" stroke="none"/>
<rect x="636.3" y="509.6" width="6.0" height="4.8" fill="#fff" stroke="none"/>
<path d="M637.4 504.6 h3.8 M637.4 512.0 h3.8" stroke-width="1.1"/>
<path d="M628 515.9 H635.6" stroke-width="1.3"/>
<text x="646.2" y="506.7" font-size="8.8" font-weight="bold" textLength="23.6" lengthAdjust="spacingAndGlyphs" fill="#000" stroke="#000" stroke-width="0.3">km/h</text>
<text x="646.2" y="515.7" font-size="8.8" font-weight="bold" textLength="23.6" lengthAdjust="spacingAndGlyphs" fill="#000" stroke="#000" stroke-width="0.3">MPH</text>
<text x="646.2" y="525.6" font-size="8.4" font-weight="bold" textLength="14.7" lengthAdjust="spacingAndGlyphs" fill="#000" stroke="#000" stroke-width="0.3">km</text>
<text x="646.2" y="532.7" font-size="7.6" font-weight="bold" textLength="21.8" lengthAdjust="spacingAndGlyphs" fill="#000" stroke="#000" stroke-width="0.3">miles</text>
<rect x="572.6" y="519.5" width="8.2" height="13.4" rx="1.3" ry="1.3" fill="#000" stroke="none"/>
<rect x="574.8" y="521.4" width="4.2" height="1.3" fill="#fff" stroke="none"/>
<rect x="574.8" y="524.4" width="4.2" height="1.3" fill="#fff" stroke="none"/>
<rect x="574.8" y="527.4" width="4.2" height="1.3" fill="#fff" stroke="none"/>
<rect x="574.8" y="530.4" width="4.2" height="1.3" fill="#fff" stroke="none"/>
<rect x="585.1" y="519.5" width="8.2" height="13.4" rx="1.3" ry="1.3" fill="#000" stroke="none"/>
<rect x="587.3" y="521.4" width="4.2" height="1.3" fill="#fff" stroke="none"/>
<rect x="587.3" y="524.4" width="4.2" height="1.3" fill="#fff" stroke="none"/>
<rect x="587.3" y="527.4" width="4.2" height="1.3" fill="#fff" stroke="none"/>
<rect x="587.3" y="530.4" width="4.2" height="1.3" fill="#fff" stroke="none"/>
<rect x="597.6" y="519.5" width="8.2" height="13.4" rx="1.3" ry="1.3" fill="#000" stroke="none"/>
<rect x="599.8" y="521.4" width="4.2" height="1.3" fill="#fff" stroke="none"/>
<rect x="599.8" y="524.4" width="4.2" height="1.3" fill="#fff" stroke="none"/>
<rect x="599.8" y="527.4" width="4.2" height="1.3" fill="#fff" stroke="none"/>
<rect x="599.8" y="530.4" width="4.2" height="1.3" fill="#fff" stroke="none"/>
<rect x="610.2" y="519.5" width="8.2" height="13.4" rx="1.3" ry="1.3" fill="#000" stroke="none"/>
<rect x="612.4" y="521.4" width="4.2" height="1.3" fill="#fff" stroke="none"/>
<rect x="612.4" y="524.4" width="4.2" height="1.3" fill="#fff" stroke="none"/>
<rect x="612.4" y="527.4" width="4.2" height="1.3" fill="#fff" stroke="none"/>
<rect x="612.4" y="530.4" width="4.2" height="1.3" fill="#fff" stroke="none"/>
<rect x="622.8" y="519.5" width="8.2" height="13.4" rx="1.3" ry="1.3" fill="#000" stroke="none"/>
<rect x="625.0" y="521.4" width="4.2" height="1.3" fill="#fff" stroke="none"/>
<rect x="625.0" y="524.4" width="4.2" height="1.3" fill="#fff" stroke="none"/>
<rect x="625.0" y="527.4" width="4.2" height="1.3" fill="#fff" stroke="none"/>
<rect x="625.0" y="530.4" width="4.2" height="1.3" fill="#fff" stroke="none"/>
<rect x="635.6" y="519.5" width="8.2" height="13.4" rx="1.3" ry="1.3" fill="#000" stroke="none"/>
<rect x="637.8" y="521.4" width="4.2" height="1.3" fill="#fff" stroke="none"/>
<rect x="637.8" y="524.4" width="4.2" height="1.3" fill="#fff" stroke="none"/>
<rect x="637.8" y="527.4" width="4.2" height="1.3" fill="#fff" stroke="none"/>
<rect x="637.8" y="530.4" width="4.2" height="1.3" fill="#fff" stroke="none"/>
<rect x="530.4" y="535" width="150.4" height="32.7" rx="3.5" ry="3.5" stroke-width="1.5" stroke-dasharray="5.4 2.6"/>
<path d="M679.6 541 H681.6 V551.6 H679.6" stroke-width="1" fill="#fff"/>
<text x="540" y="547.5" font-size="13.8" font-weight="bold" fill="#000" stroke="none">E</text>
<text x="661.2" y="547.5" font-size="13.8" font-weight="bold" fill="#000" stroke="none">F</text>
<path d="M601 547.4 V538.6 Q601 537.4 602.2 537.4 H606.4 Q607.6 537.4 607.6 538.6 V547.4 Z" fill="#000" stroke="none"/>
<rect x="602.3" y="538.6" width="4" height="2.4" fill="#fff" stroke="none"/>
<path d="M608.4 538.2 L610.2 540.2 V542.4 L609.2 543.8 L610.4 546 L608.8 547" stroke-width="1.1"/>
<path d="M611.2 540.6 L615 542.4 L611.2 544.2 Z" fill="#000" stroke="none"/>
<rect x="540.2" y="550.1" width="4.6" height="9.9" stroke-width="2"/>
<rect x="551.4" y="550.1" width="4.6" height="9.9" stroke-width="2"/>
<rect x="562.6" y="550.1" width="4.6" height="9.9" stroke-width="2"/>
<rect x="573.9" y="550.1" width="4.6" height="9.9" stroke-width="2"/>
<rect x="585.1" y="550.1" width="4.6" height="9.9" stroke-width="2"/>
<rect x="596.3" y="550.1" width="4.6" height="9.9" stroke-width="2"/>
<rect x="607.5" y="550.1" width="4.6" height="9.9" stroke-width="2"/>
<rect x="618.7" y="550.1" width="4.6" height="9.9" stroke-width="2"/>
<rect x="630.0" y="550.1" width="4.6" height="9.9" stroke-width="2"/>
<rect x="641.2" y="550.1" width="4.6" height="9.9" stroke-width="2"/>
<rect x="652.4" y="550.1" width="4.6" height="9.9" stroke-width="2"/>
<rect x="663.6" y="550.1" width="4.6" height="9.9" stroke-width="2"/>
<rect x="539.4" y="562.5" width="130.6" height="4.1" fill="#000" stroke="none"/>
<rect x="543.6" y="566" width="6.4" height="2.7" rx="1" fill="#000" stroke="none"/>
<rect x="554.8" y="566" width="6.4" height="2.7" rx="1" fill="#000" stroke="none"/>
<rect x="566.0" y="566" width="6.4" height="2.7" rx="1" fill="#000" stroke="none"/>
<rect x="577.3" y="566" width="6.4" height="2.7" rx="1" fill="#000" stroke="none"/>
<rect x="588.5" y="566" width="6.4" height="2.7" rx="1" fill="#000" stroke="none"/>
<rect x="599.7" y="566" width="6.4" height="2.7" rx="1" fill="#000" stroke="none"/>
<rect x="610.9" y="566" width="6.4" height="2.7" rx="1" fill="#000" stroke="none"/>
<rect x="622.1" y="566" width="6.4" height="2.7" rx="1" fill="#000" stroke="none"/>
<rect x="633.4" y="566" width="6.4" height="2.7" rx="1" fill="#000" stroke="none"/>
<rect x="644.6" y="566" width="6.4" height="2.7" rx="1" fill="#000" stroke="none"/>
<rect x="655.8" y="566" width="6.4" height="2.7" rx="1" fill="#000" stroke="none"/>
<rect x="667.0" y="566" width="6.4" height="2.7" rx="1" fill="#000" stroke="none"/>
<rect x="541.0" y="563.9" width="1.6" height="1.7" fill="#fff" stroke="none"/>
<rect x="571.2" y="563.9" width="1.6" height="1.7" fill="#fff" stroke="none"/>
<rect x="604.2" y="563.9" width="1.6" height="1.7" fill="#fff" stroke="none"/>
<rect x="637.2" y="563.9" width="1.6" height="1.7" fill="#fff" stroke="none"/>
<rect x="667.4" y="563.9" width="1.6" height="1.7" fill="#fff" stroke="none"/>
<path d="M541 577.6 Q540.2 574.6 543.2 573.8 L546.6 572.8 L550.4 570.6 H559.4 Q562.2 572 562.4 575.6 Q562.4 578.6 560.6 579.6" stroke-width="1.7" stroke-linejoin="round"/>
<path d="M540.2 582.4 L545.2 578.2 M546.6 579 H556.6 M558.4 578.2 L562.2 582.4 M545.6 581.4 H549.8 M552.4 579.4 L554.4 582 L556.4 579.4" stroke-width="1.7"/>
<rect x="656.8" y="476.4" width="6" height="3.2" fill="#fff" stroke="none"/>
<path d="M659.5 470 V497.5" stroke-width="1.1"/>
</g>
<text x="346.8" y="218" font-size="26" font-weight="bold" text-anchor="middle">1</text>
<text x="562.0" y="218" font-size="26" font-weight="bold" text-anchor="middle">2</text>
<text x="660.0" y="218" font-size="26" font-weight="bold" text-anchor="middle">3</text>
<text x="863.3" y="218" font-size="26" font-weight="bold" text-anchor="middle">4</text>
<text x="701.3" y="835" font-size="26" font-weight="bold" text-anchor="middle">5</text>
<text x="1010.9" y="848.8" font-size="17.1" textLength="55.6" lengthAdjust="spacingAndGlyphs">001964</text>
</svg>
</div>
</body>
</html>
